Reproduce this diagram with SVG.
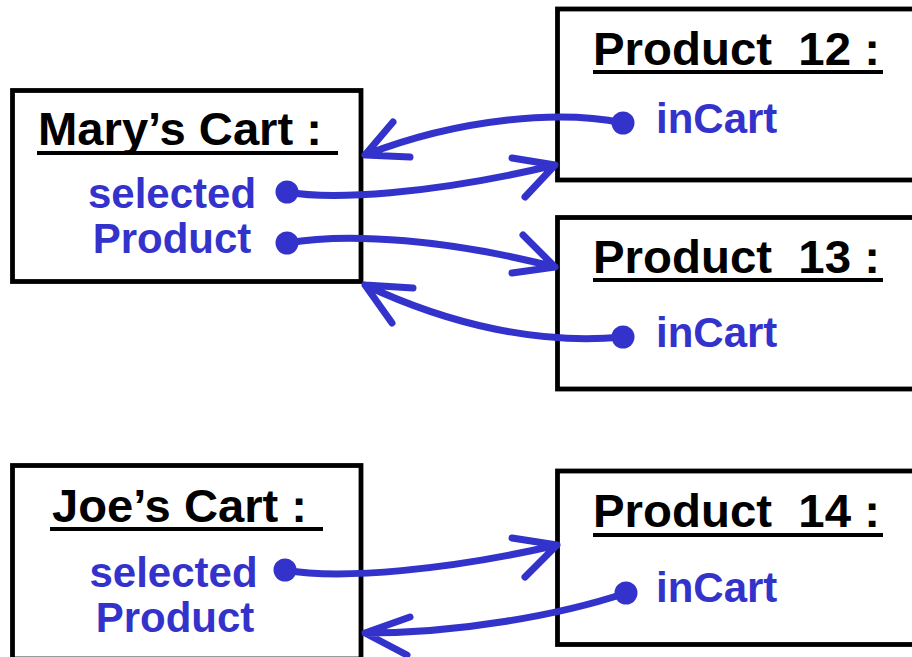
<svg xmlns="http://www.w3.org/2000/svg" width="912" height="657" viewBox="0 0 912 657">
  <style>
    .box { fill: #ffffff; stroke: #000000; stroke-width: 4.8; }
    .title { font-family: "Liberation Sans", Arial, sans-serif; font-weight: bold; font-size: 47px; fill: #000000; }
    .uline { stroke: #000000; stroke-width: 4; }
    .attr { font-family: "Liberation Sans", Arial, sans-serif; font-weight: bold; font-size: 42px; fill: #3333cc; }
    .dot { fill: #3333cc; }
    .link { fill: none; stroke: #3333cc; stroke-width: 7; stroke-linecap: round; stroke-linejoin: round; }
  </style>
  <rect width="912" height="657" fill="#ffffff"/>

  <g id="marys-cart">
    <rect class="box" x="12.5" y="90.5" width="348.5" height="191"/>
    <text class="title" x="38" y="145" textLength="284" lengthAdjust="spacingAndGlyphs">Mary’s Cart :</text>
    <line class="uline" x1="37" y1="153" x2="338" y2="153"/>
    <text class="attr" x="172" y="208" text-anchor="middle">selected</text>
    <text class="attr" x="172" y="253" text-anchor="middle">Product</text>
    <circle class="dot" cx="287" cy="192" r="11.5"/>
    <circle class="dot" cx="287" cy="243" r="11.5"/>
  </g>

  <g id="product-12">
    <rect class="box" x="557.5" y="9" width="370" height="171"/>
    <text class="title" x="593" y="65" xml:space="preserve" textLength="287" lengthAdjust="spacingAndGlyphs">Product  12 :</text>
    <line class="uline" x1="593" y1="72" x2="883" y2="72"/>
    <text class="attr" x="656" y="133">inCart</text>
    <circle class="dot" cx="623" cy="123" r="11.5"/>
  </g>

  <g id="product-13">
    <rect class="box" x="557.5" y="217.5" width="370" height="171.5"/>
    <text class="title" x="593" y="273" xml:space="preserve" textLength="287" lengthAdjust="spacingAndGlyphs">Product  13 :</text>
    <line class="uline" x1="593" y1="280" x2="883" y2="280"/>
    <text class="attr" x="656" y="347">inCart</text>
    <circle class="dot" cx="623" cy="337" r="11.5"/>
  </g>

  <g id="joes-cart">
    <rect class="box" x="12.5" y="465.5" width="348.5" height="193.5"/>
    <text class="title" x="52" y="522" textLength="255" lengthAdjust="spacingAndGlyphs">Joe’s Cart :</text>
    <line class="uline" x1="50" y1="529" x2="323" y2="529"/>
    <text class="attr" x="173.5" y="587" text-anchor="middle">selected</text>
    <text class="attr" x="175" y="632" text-anchor="middle">Product</text>
    <circle class="dot" cx="285" cy="570" r="11.5"/>
  </g>

  <g id="product-14">
    <rect class="box" x="557.5" y="471" width="370" height="173.5"/>
    <text class="title" x="593" y="527" xml:space="preserve" textLength="287" lengthAdjust="spacingAndGlyphs">Product  14 :</text>
    <line class="uline" x1="593" y1="535" x2="883" y2="535"/>
    <text class="attr" x="656" y="602">inCart</text>
    <circle class="dot" cx="626" cy="593" r="11.5"/>
  </g>

  <g id="connectors">
    <!-- Product 12 inCart -> Mary's Cart -->
    <path class="link" d="M623,123 C560,110 460,118 365,155 M393,122 L365,155 L410,157"/>
    <!-- Mary's Cart selectedProduct -> Product 12 -->
    <path class="link" d="M287,192 C330,200 430,195 555,165 M512,158 L555,165 L525,197"/>
    <!-- Mary's Cart selectedProduct -> Product 13 -->
    <path class="link" d="M287,243 C350,232 450,240 555,267 M523,235 L555,267 L512,273"/>
    <!-- Product 13 inCart -> Mary's Cart -->
    <path class="link" d="M623,337 C540,345 450,325 365,285 M413,288 L365,285 L392,323"/>
    <!-- Joe's Cart selectedProduct -> Product 14 -->
    <path class="link" d="M285,570 C340,580 450,570 557,545 M512,538 L557,545 L525,577"/>
    <!-- Product 14 inCart -> Joe's Cart -->
    <path class="link" d="M626,593 C560,615 460,633 365,633 M410,617 L365,633 L407,655"/>
  </g>
</svg>
